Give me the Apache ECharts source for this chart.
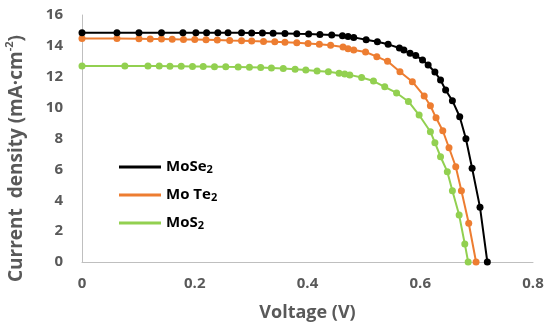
<!DOCTYPE html>
<html>
<head>
<meta charset="utf-8">
<script src="https://cdn.jsdelivr.net/npm/echarts@6/dist/echarts.min.js"></script>
<style>html,body{margin:0;padding:0;background:#fff;}#c{width:550px;height:328px;}</style>
</head>
<body>
<div id="c"></div>
<script>
const seriesNames = ['MoSe2', 'MoTe2', 'MoS2'];
const xTicks = [0, 0.2, 0.4, 0.6, 0.8];
const yTicks = [0, 2, 4, 6, 8, 10, 12, 14, 16];

const moSe2V = [0, 0.062, 0.101, 0.141, 0.179, 0.202, 0.221, 0.241, 0.259, 0.283, 0.301, 0.320, 0.339, 0.360, 0.381, 0.402, 0.422, 0.443, 0.462, 0.472, 0.482, 0.504, 0.524, 0.543, 0.563, 0.571, 0.582, 0.592, 0.604, 0.614, 0.626, 0.636, 0.645, 0.657, 0.670, 0.681, 0.692, 0.706, 0.719];
const moSe2J = [14.85, 14.85, 14.85, 14.85, 14.85, 14.85, 14.85, 14.85, 14.85, 14.85, 14.84, 14.83, 14.82, 14.8, 14.78, 14.77, 14.74, 14.7, 14.65, 14.6, 14.55, 14.4, 14.27, 14.1, 13.86, 13.73, 13.52, 13.38, 13.08, 12.76, 12.3, 11.79, 11.14, 10.45, 9.41, 7.98, 6.07, 3.54, 0];

const moTe2V = [0, 0.062, 0.101, 0.121, 0.141, 0.160, 0.180, 0.200, 0.220, 0.240, 0.262, 0.283, 0.301, 0.322, 0.342, 0.360, 0.381, 0.401, 0.421, 0.441, 0.463, 0.472, 0.482, 0.503, 0.523, 0.542, 0.564, 0.586, 0.607, 0.618, 0.628, 0.640, 0.651, 0.663, 0.673, 0.686, 0.699];
const moTe2J = [14.48, 14.47, 14.46, 14.45, 14.44, 14.43, 14.42, 14.41, 14.4, 14.38, 14.35, 14.33, 14.31, 14.29, 14.27, 14.24, 14.2, 14.16, 14.1, 14.04, 13.92, 13.82, 13.73, 13.6, 13.3, 13.0, 12.32, 11.68, 10.75, 10.12, 9.34, 8.5, 7.4, 6.17, 4.62, 2.51, 0];

const moS2V = [0, 0.076, 0.117, 0.137, 0.156, 0.176, 0.196, 0.215, 0.235, 0.255, 0.277, 0.297, 0.317, 0.336, 0.357, 0.378, 0.397, 0.417, 0.437, 0.456, 0.466, 0.475, 0.496, 0.517, 0.537, 0.558, 0.579, 0.598, 0.618, 0.626, 0.636, 0.648, 0.657, 0.669, 0.679, 0.685];
const moS2J = [12.7, 12.7, 12.69, 12.69, 12.68, 12.68, 12.67, 12.66, 12.65, 12.64, 12.63, 12.62, 12.6, 12.57, 12.53, 12.48, 12.43, 12.38, 12.32, 12.23, 12.18, 12.12, 11.95, 11.72, 11.35, 10.95, 10.4, 9.52, 8.44, 7.73, 6.82, 5.85, 4.62, 3.04, 1.17, 0];

const colors = ['#000000', '#ED7D31', '#92D050'];
const legendLabels = {
  'MoSe2': '{m|MoSe}{s|2}',
  'MoTe2': '{m|Mo Te}{s|2}',
  'MoS2': '{m|MoS}{s|2}'
};

function pairs(xs, ys) { return xs.map((x, i) => [x, ys[i]]); }
const allData = [pairs(moSe2V, moSe2J), pairs(moTe2V, moTe2J), pairs(moS2V, moS2J)];

const chart = echarts.init(document.getElementById('c'), null, {renderer: 'canvas'});
const font = '"Open Sans", "Liberation Sans", sans-serif';
chart.setOption({
  animation: false,
  backgroundColor: '#ffffff',
  color: colors,
  grid: {left: 82, right: 17, top: 15, bottom: 66, containLabel: false, outerBoundsMode: 'none'},
  legend: {
    orient: 'vertical',
    left: 114,
    top: 152,
    icon: 'rect',
    itemWidth: 42,
    itemHeight: 3,
    itemGap: 10,
    data: seriesNames,
    formatter: n => legendLabels[n],
    textStyle: {
      rich: {
        m: {fontFamily: font, fontWeight: 'bold', fontSize: 15, color: '#000', lineHeight: 16, verticalAlign: 'top'},
        s: {fontFamily: font, fontWeight: 'bold', fontSize: 11, color: '#000', lineHeight: 16, verticalAlign: 'bottom', padding: [7, 0, 0, 0]}
      }
    }
  },
  xAxis: {
    type: 'value',
    min: xTicks[0], max: xTicks[xTicks.length - 1], interval: 0.2,
    name: 'Voltage (V)',
    nameLocation: 'middle',
    nameGap: 42,
    nameTextStyle: {fontFamily: font, fontWeight: 'bold', fontSize: 18, color: '#595959'},
    axisLine: {show: true, lineStyle: {color: '#BFBFBF', width: 1}},
    axisTick: {show: false},
    splitLine: {show: false},
    axisLabel: {margin: 14, fontFamily: font, fontWeight: 'bold', fontSize: 15, color: '#595959',
      formatter: v => String(Math.round(v * 10) / 10)}
  },
  yAxis: {
    type: 'value',
    min: yTicks[0], max: yTicks[yTicks.length - 1], interval: 2,
    name: '{a|Current  density (mA·cm}{b|-2}{a|)}',
    nameLocation: 'middle',
    nameGap: 56,
    nameTextStyle: {
      padding: [0, 40, 0, 0],
      rich: {
        a: {fontFamily: font, fontWeight: 'bold', fontSize: 19, color: '#595959', lineHeight: 22, verticalAlign: 'bottom'},
        b: {fontFamily: font, fontWeight: 'bold', fontSize: 11, color: '#595959', lineHeight: 22, verticalAlign: 'top', padding: [0, 0, 10, 0]}
      }
    },
    axisLine: {show: true, lineStyle: {color: '#BFBFBF', width: 1}},
    axisTick: {show: false},
    splitLine: {show: false},
    axisLabel: {margin: 19, fontFamily: font, fontWeight: 'bold', fontSize: 15, color: '#595959'}
  },
  series: seriesNames.map((n, i) => ({
    name: n,
    type: 'line',
    data: allData[i],
    symbol: 'circle',
    symbolSize: 7,
    showSymbol: true,
    lineStyle: {width: 2, color: colors[i]},
    itemStyle: {color: colors[i]},
    z: 3 - i
  }))
});
</script>
</body>
</html>
